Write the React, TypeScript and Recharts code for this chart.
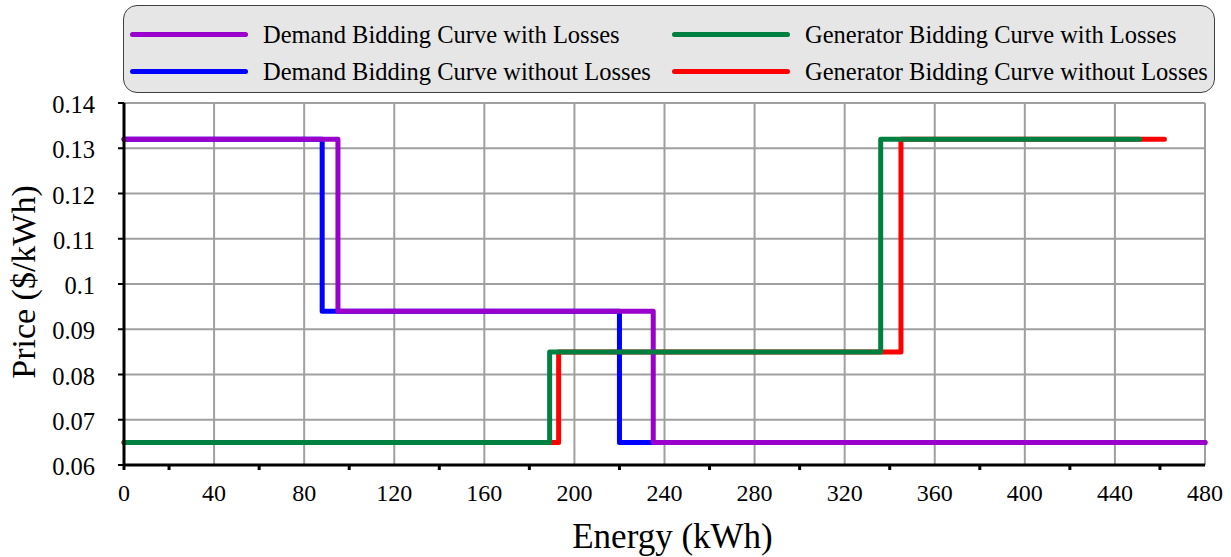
import { LineChart, Line, XAxis, YAxis, CartesianGrid, ReferenceLine } from "recharts";

// step points (energy kWh, price $/kWh)
const demandLossEnergy = [0, 95, 235, 480];
const demandLossPrice = [0.132, 0.094, 0.065, 0.065];
const demandNoLossEnergy = [0, 88, 220, 480];
const demandNoLossPrice = [0.132, 0.094, 0.065, 0.065];
const genLossEnergy = [0, 189, 336, 451];
const genLossPrice = [0.065, 0.085, 0.132, 0.132];
const genNoLossEnergy = [0, 193, 345, 462];
const genNoLossPrice = [0.065, 0.085, 0.132, 0.132];

const xTicks = [0, 20, 40, 60, 80, 100, 120, 140, 160, 180, 200, 220, 240, 260, 280, 300, 320, 340, 360, 380, 400, 420, 440, 460, 480];
const xGrid = [40, 80, 120, 160, 200, 240, 280, 320, 360, 400, 440, 480];
const yTicks = [0.06, 0.07, 0.08, 0.09, 0.1, 0.11, 0.12, 0.13, 0.14];

const zip = (xs: number[], ys: number[]) => xs.map((x, i) => ({ x, y: ys[i] }));

const FONT = "'Liberation Serif', 'Times New Roman', serif";

const series = [
  { name: "Generator Bidding Curve without Losses", color: "#ff0000", data: zip(genNoLossEnergy, genNoLossPrice) },
  { name: "Demand Bidding Curve without Losses", color: "#0000ff", data: zip(demandNoLossEnergy, demandNoLossPrice) },
  { name: "Demand Bidding Curve with Losses", color: "#9900cc", data: zip(demandLossEnergy, demandLossPrice) },
  { name: "Generator Bidding Curve with Losses", color: "#008040", data: zip(genLossEnergy, genLossPrice) },
];

const legendItems = [
  { name: "Demand Bidding Curve with Losses", color: "#9900cc" },
  { name: "Generator Bidding Curve with Losses", color: "#008040" },
  { name: "Demand Bidding Curve without Losses", color: "#0000ff" },
  { name: "Generator Bidding Curve without Losses", color: "#ff0000" },
];

const XTick = ({ x, y, payload }: any) => {
  const v = payload.value;
  const major = v % 40 === 0;
  return (
    <g>
      {(!major || v === 0) && <line x1={x} x2={x} y1={y} y2={y + 5} stroke="#000" strokeWidth={3} />}
      {major && (
        <text x={x} y={y + 36} textAnchor="middle" fontSize={24} fontFamily={FONT} fill="#000">
          {v}
        </text>
      )}
    </g>
  );
};

const YTick = ({ x, y, payload }: any) => (
  <text x={x} y={y + 10} textAnchor="end" fontSize={24.5} fontFamily={FONT} fill="#000">
    {payload.value}
  </text>
);

export default function App() {
  return (
    <div
      style={{
        position: "absolute",
        left: 0,
        top: 0,
        width: 1231,
        height: 557,
        background: "#fff",
        fontFamily: FONT,
      }}
    >
      <LineChart width={1231} height={557} margin={{ top: 103, right: 26, bottom: 0, left: 0 }}>
        <CartesianGrid vertical={false} stroke="#a0a0a0" strokeWidth={2} />
        {xGrid.map((g) => (
          <ReferenceLine key={g} x={g} stroke="#a0a0a0" strokeWidth={2} />
        ))}
        <XAxis
          dataKey="x"
          type="number"
          domain={[0, 480]}
          ticks={xTicks}
          interval={0}
          height={92}
          tickSize={0}
          tickMargin={0}
          tickLine={false}
          axisLine={{ stroke: "#000", strokeWidth: 3 }}
          tick={<XTick />}
          label={{
            content: (p: any) => {
              const vb = p.viewBox;
              return (
                <text x={vb.x + vb.width / 2 + 8} y={vb.y + 83} textAnchor="middle" fontSize={35} fontFamily={FONT} fill="#000">
                  Energy (kWh)
                </text>
              );
            },
          }}
        />
        <YAxis
          type="number"
          domain={[0.06, 0.14]}
          ticks={yTicks}
          interval={0}
          width={124}
          tickSize={6}
          tickMargin={23}
          tickLine={{ stroke: "#000", strokeWidth: 2 }}
          axisLine={{ stroke: "#000", strokeWidth: 3 }}
          tick={<YTick />}
          label={{
            content: (p: any) => {
              const vb = p.viewBox;
              const cy = vb.y + vb.height / 2 - 2;
              return (
                <text
                  x={35}
                  y={cy}
                  transform={`rotate(-90 35 ${cy})`}
                  textAnchor="middle"
                  fontSize={34}
                  fontFamily={FONT}
                  fill="#000"
                >
                  Price ($/kWh)
                </text>
              );
            },
          }}
        />
        {series.map((s) => (
          <Line
            key={s.name}
            data={s.data}
            dataKey="y"
            name={s.name}
            type="stepAfter"
            stroke={s.color}
            strokeWidth={5}
            strokeLinejoin="round"
            strokeLinecap="round"
            dot={false}
            activeDot={false}
            isAnimationActive={false}
          />
        ))}
      </LineChart>
      <div
        style={{
          position: "absolute",
          left: 123,
          top: 5,
          width: 1092,
          height: 88,
          boxSizing: "border-box",
          border: "1.5px solid #404040",
          borderRadius: 14,
          background: "#e6e6e6",
          display: "grid",
          gridTemplateColumns: "542px 1fr",
          gridTemplateRows: "1fr 1fr",
          paddingTop: 10,
          paddingBottom: 2,
          fontSize: 24.5,
          color: "#000",
        }}
      >
        {legendItems.map((it) => (
          <div key={it.name} style={{ display: "flex", alignItems: "center", paddingLeft: 6 }}>
            <div style={{ width: 118, height: 5, borderRadius: 3, background: it.color, marginRight: 15 }} />
            <span>{it.name}</span>
          </div>
        ))}
      </div>
    </div>
  );
}
